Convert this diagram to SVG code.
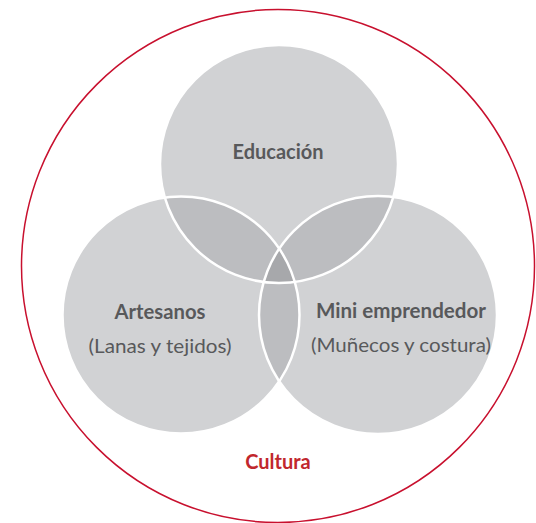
<svg xmlns="http://www.w3.org/2000/svg" width="536" height="523" viewBox="0 0 536 523">
  <style>
    .single { fill: #d1d2d4; }
    .double { fill: #bcbdc0; }
    .triple { fill: #a7a8ab; }
    .outline { fill: none; stroke: #ffffff; stroke-width: 2.5; }
    .title { font-family: Lato, "Open Sans", "Liberation Sans", sans-serif; font-weight: bold; font-size: 20px; fill: #58595b; text-anchor: middle; }
    .sub { font-family: Lato, "Open Sans", "Liberation Sans", sans-serif; font-weight: normal; font-size: 20px; fill: #58595b; text-anchor: middle; }
    .culture { font-family: Lato, "Open Sans", "Liberation Sans", sans-serif; font-weight: bold; font-size: 20px; fill: #c1272d; text-anchor: middle; }
  </style>
  <defs>
    <circle id="cTop" cx="279" cy="164" r="119"/>
    <circle id="cLeft" cx="181" cy="315" r="118.5"/>
    <circle id="cRight" cx="378" cy="315" r="119"/>
    <clipPath id="clipTop"><use href="#cTop"/></clipPath>
    <clipPath id="clipLeft"><use href="#cLeft"/></clipPath>
    <clipPath id="clipRight"><use href="#cRight"/></clipPath>
  </defs>
  <rect width="536" height="523" fill="#ffffff"/>

  <g id="cultura">
    <circle cx="278" cy="266" r="256.5" fill="none" stroke="#c8102e" stroke-width="1.5"/>
    <text class="culture" x="278" y="469">Cultura</text>
  </g>

  <g id="fills">
    <use href="#cTop" class="single"/>
    <use href="#cLeft" class="single"/>
    <use href="#cRight" class="single"/>
    <use href="#cLeft" class="double" clip-path="url(#clipTop)"/>
    <use href="#cRight" class="double" clip-path="url(#clipTop)"/>
    <use href="#cRight" class="double" clip-path="url(#clipLeft)"/>
    <g clip-path="url(#clipLeft)">
      <use href="#cRight" class="triple" clip-path="url(#clipTop)"/>
    </g>
  </g>

  <g id="educacion">
    <use href="#cTop" class="outline"/>
    <text class="title" x="278" y="159" textLength="91" lengthAdjust="spacingAndGlyphs">Educación</text>
  </g>

  <g id="artesanos">
    <use href="#cLeft" class="outline"/>
    <text class="title" x="160" y="319" textLength="91" lengthAdjust="spacingAndGlyphs">Artesanos</text>
    <text class="sub" x="160" y="353" textLength="143" lengthAdjust="spacingAndGlyphs">(Lanas y tejidos)</text>
  </g>

  <g id="mini-emprendedor">
    <use href="#cRight" class="outline"/>
    <text class="title" x="401" y="318" textLength="170" lengthAdjust="spacingAndGlyphs">Mini emprendedor</text>
    <text class="sub" x="401" y="352" textLength="180" lengthAdjust="spacingAndGlyphs">(Muñecos y costura)</text>
  </g>
</svg>
